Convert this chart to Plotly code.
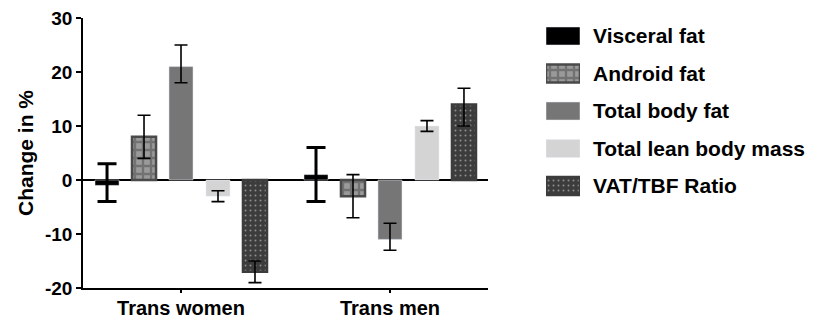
import plotly.graph_objects as go

groups = ["Trans women", "Trans men"]
series = ["Visceral fat", "Android fat", "Total body fat", "Total lean body mass", "VAT/TBF Ratio"]

visceral = [-1, 1]
android = [8, -3]
total_fat = [21, -11]
lean = [-3, 10]
vat_ratio = [-17, 14]

visceral_up = [4, 5]
visceral_down = [3, 5]
android_up = [4, 4]
android_down = [4, 4]
total_fat_up = [4, 3]
total_fat_down = [3, 2]
lean_up = [1, 1]
lean_down = [1, 1]
vat_up = [2, 3]
vat_down = [2, 4]

y_ticks = [-20, -10, 0, 10, 20, 30]
y_tick_text = ["-20", "-10", "0", "10", "20", "30"]

FONT = "Liberation Sans"

styles = [
    dict(color="#000000"),
    dict(color="#4a4a4a", line=dict(color="#4a4a4a", width=2.5),
         pattern=dict(shape="+", fgcolor="#4a4a4a", bgcolor="#9a9a9a", size=8, solidity=0.5)),
    dict(color="#767676"),
    dict(color="#d4d4d4"),
    dict(color="#3c3c3c", line=dict(color="#3c3c3c", width=2.5),
         pattern=dict(shape=".", fgcolor="#e0e0e0", bgcolor="#3c3c3c", size=5, solidity=0.12)),
]

values = [visceral, android, total_fat, lean, vat_ratio]
ups = [visceral_up, android_up, total_fat_up, lean_up, vat_up]
downs = [visceral_down, android_down, total_fat_down, lean_down, vat_down]

fig = go.Figure()
for i, name in enumerate(series):
    thick = i == 0
    fig.add_trace(go.Bar(
        x=groups, y=values[i], name=name, showlegend=False,
        marker=styles[i],
        error_y=dict(type="data", symmetric=False, array=ups[i], arrayminus=downs[i],
                     color="black", thickness=3 if thick else 1.6,
                     width=9.5 if thick else 6.5),
        xaxis="x", yaxis="y",
    ))

# legend swatches drawn as a small bar subplot
for i, name in enumerate(series):
    fig.add_trace(go.Bar(
        x=[1], y=[i], orientation="h", base=0, width=0.48, offset=-0.24,
        marker=styles[i], showlegend=False, hoverinfo="skip",
        xaxis="x2", yaxis="y2",
    ))

W = 814 - 83 - 4
fig.update_layout(
    width=814, height=320,
    margin=dict(l=83, r=4, t=18, b=32),
    paper_bgcolor="white", plot_bgcolor="white",
    barmode="group", bargap=0.115, bargroupgap=0.35,
    font=dict(family=FONT, color="black"),
    xaxis=dict(
        domain=[0, 405 / W], range=[-0.469, 1.469], type="category",
        showline=True, linecolor="black", linewidth=1.5,
        ticks="outside", ticklen=3, tickwidth=1.5, tickcolor="black",
        showgrid=False, zeroline=False,
        ticklabelstandoff=-2,
        tickfont=dict(family=FONT, size=20, color="black", weight="bold"),
        automargin=False,
    ),
    yaxis=dict(
        domain=[0, 1], range=[-20, 30], tickvals=y_ticks, ticktext=y_tick_text,
        showline=True, linecolor="black", linewidth=1.5,
        ticks="outside", ticklen=5, tickwidth=1.5, tickcolor="black",
        showgrid=False, zeroline=True, zerolinecolor="black", zerolinewidth=1.5,
        tickfont=dict(family=FONT, size=19, color="black", weight="bold"),
        title=dict(text="Change in %", font=dict(family=FONT, size=21, color="black", weight="bold"),
                   standoff=6),
        automargin=False,
    ),
    xaxis2=dict(
        domain=[463 / W, 497 / W], range=[0, 1], anchor="y2",
        visible=False, showgrid=False, zeroline=False,
    ),
    yaxis2=dict(
        domain=[0.2, 1.0], range=[5.28, -0.48], anchor="x2", side="right",
        tickvals=list(range(len(series))), ticktext=series,
        showline=False, ticks="", showgrid=False, zeroline=False,
        ticklabelstandoff=12,
        tickfont=dict(family=FONT, size=21, color="black", weight="bold"),
        automargin=False,
    ),
)

fig.write_html(
    "out.html",
    config={"displayModeBar": False},
    post_script="document.body.style.margin='0';document.body.style.overflow='hidden';",
)
